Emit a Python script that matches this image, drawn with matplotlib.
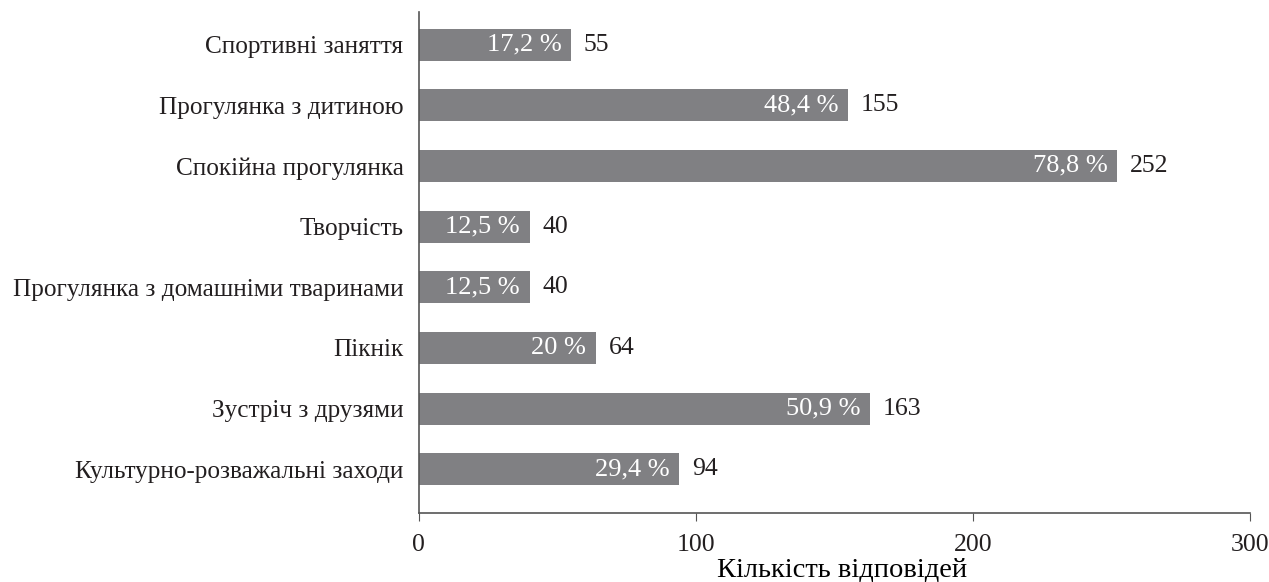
import matplotlib
matplotlib.use("Agg")
import matplotlib.pyplot as plt

categories = ["Спортивні заняття", "Прогулянка з дитиною", "Спокійна прогулянка",
              "Творчість", "Прогулянка з домашніми тваринами", "Пікнік",
              "Зустріч з друзями", "Культурно-розважальні заходи"]
counts = [55, 155, 252, 40, 40, 64, 163, 94]
shares = ["17,2 %", "48,4 %", "78,8 %", "12,5 %", "12,5 %", "20 %", "50,9 %", "29,4 %"]
xticks = [0, 100, 200, 300]

plt.rcParams['font.family'] = ['Liberation Serif', 'DejaVu Serif']
plt.rcParams['font.size'] = 18.5
plt.rcParams['text.color'] = "#231f20"
plt.rcParams['xtick.color'] = "#231f20"
plt.rcParams['ytick.color'] = "#231f20"

fig = plt.figure(figsize=(12.69, 5.82), dpi=100)
ax = fig.add_axes([0.330, 0.1186, 0.655, 0.860])

y = list(range(len(categories)))
bars = ax.barh(y, counts, height=0.53, color="#808083")

for b, c, s in zip(bars, counts, shares):
    yc = b.get_y() + b.get_height() / 2
    ax.annotate(s, (c, yc), xytext=(-7, 0), textcoords="offset points",
                ha="right", va="center", color="white", fontsize=19)
    ax.annotate(str(c), (c, yc), xytext=(9, 0), textcoords="offset points",
                ha="left", va="center", fontsize=18.5)

ax.set_yticks(y)
ax.set_yticklabels(categories, fontsize=18.2)
ax.set_ylim(7.72, -0.53)
ax.set_xlim(0, 300)
ax.set_xticks(xticks)
ax.set_xlabel("Кількість відповідей", fontsize=20.5)
ax.xaxis.set_label_coords(0.509, -0.088)

for side in ["top", "right"]:
    ax.spines[side].set_visible(False)
for side in ["left", "bottom"]:
    ax.spines[side].set_color("#555555")
    ax.spines[side].set_linewidth(1.2)
ax.tick_params(axis="y", length=0, pad=11)
ax.tick_params(axis="x", length=6, direction="out", color="#555555", pad=9)

fig.savefig("out.png", dpi=100)
